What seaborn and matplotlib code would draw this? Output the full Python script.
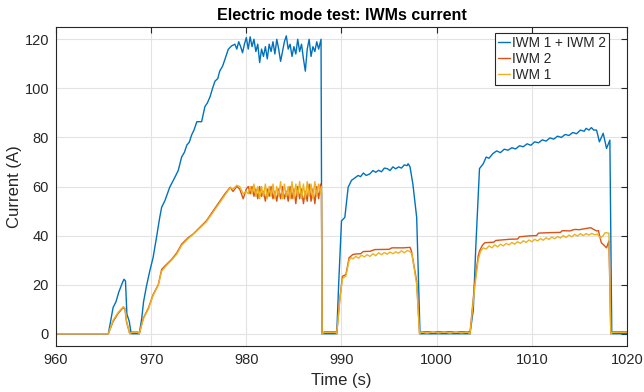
import numpy as np
import pandas as pd
import matplotlib
matplotlib.use("Agg")
import matplotlib.pyplot as plt
import seaborn as sns

# ---------------- data ----------------
t_sum = [960, 965.5, 966.0, 966.3, 966.6, 967.0, 967.15, 967.3, 967.45, 967.7, 967.9, 968.75,
         969.0, 969.2, 969.5, 969.85, 970.2, 970.55, 970.9, 971.1, 971.45, 971.95, 972.5, 972.85,
         973.2, 973.5, 973.75, 974.0, 974.25, 974.5, 974.8, 975.3, 975.65, 975.9, 976.2, 976.45,
         976.7, 977.0, 977.2, 977.5, 977.75, 978.1, 978.45, 978.8, 979.0,
         979.2, 979.4, 979.6, 979.8, 980.0, 980.2, 980.4, 980.6, 980.8, 981.0, 981.2, 981.4,
         981.6, 981.8, 982.0, 982.2, 982.4, 982.6, 982.8, 983.0, 983.2, 983.4, 983.6, 983.8,
         984.0, 984.2, 984.4, 984.6, 984.8, 985.0, 985.2, 985.4, 985.6, 985.8, 986.0, 986.2,
         986.4, 986.6, 986.8, 987.0, 987.2, 987.4, 987.6, 987.85, 987.95,
         989.5, 989.7, 990.0, 990.35, 990.7, 991.05, 991.4, 991.75, 992.0, 992.3, 992.6, 993.0,
         993.3, 993.6, 993.9, 994.2, 994.5, 994.8, 995.1, 995.4, 995.7, 996.0, 996.3, 996.6,
         996.9, 997.0, 997.2, 997.5, 997.9, 998.1, 998.25,
         1003.5, 1003.85, 1004.1, 1004.35, 1004.5, 1004.9, 1005.2, 1005.5, 1005.9, 1006.3, 1006.7,
         1007.1, 1007.5, 1007.9, 1008.3, 1008.7, 1009.1, 1009.5, 1009.9, 1010.3, 1010.7, 1011.1,
         1011.5, 1011.9, 1012.3, 1012.7, 1013.1, 1013.5, 1013.9, 1014.3, 1014.7, 1015.1, 1015.5,
         1015.7, 1016.0, 1016.26, 1016.5, 1016.8, 1017.1, 1017.5, 1017.85, 1018.0, 1018.2, 1018.4,
         1020]
v_sum = [0, 0, 10.7, 13, 17, 21, 22.2, 21.5, 8, 5, 0, 0,
         6, 13, 19.3, 25.5, 31, 39, 47.4, 51.5, 54.3, 59.7, 63.8, 66.6,
         72, 74, 76.9, 78, 81, 83, 86.4, 86.4, 92.6, 94, 96.7, 100,
         102.9, 104, 107, 109, 111.8, 115.9, 117.3, 118, 116,
         119, 117, 114.5, 118, 120.7, 116, 121, 117, 120, 115, 118, 110.5,
         116, 113, 117, 112, 118, 115, 119, 114, 120, 116, 111, 115,
         119, 121.4, 116, 118, 113, 117, 114, 120, 115, 118, 112, 107,
         116, 120, 113, 117, 115, 119, 116, 120, 0,
         0, 20, 46, 47.4, 59.7, 62.5, 63.5, 64.5, 64, 65.5, 64.5, 65.2,
         66.5, 65.8, 66.6, 66, 67.5, 67.3, 66.5, 68, 67.2, 68, 67.5, 68.8,
         68.5, 69.3, 68, 61, 47.4, 20, 0,
         0, 9.7, 34.4, 55, 67.3, 69.3, 72, 71.5, 73.4, 74.5, 73.8,
         75.2, 74.8, 75.8, 75.3, 76.6, 76.2, 77.4, 76.8, 78.2, 77.8, 79,
         78.5, 79.8, 79.3, 80.5, 80.0, 81.2, 80.8, 82, 81.5, 83, 82.5,
         83.7, 83, 84, 83, 83, 78.2, 81.7, 75.5, 77, 78.9, 0,
         0]

t_iwm2 = [960, 965.5, 966.0, 966.55, 967.07, 967.25, 967.4, 967.75, 968.0, 968.6, 968.75,
          969.17, 969.7, 970.2, 970.75, 971.1, 971.6, 972.15, 972.7, 973.2, 973.9, 974.4,
          975.1, 975.8, 976.5, 977.15, 977.75, 978.3, 978.6, 979.0, 979.3, 979.67, 980.0,
          980.2, 980.4, 980.6, 980.8, 981.0, 981.2, 981.4, 981.6, 981.8, 982.0, 982.2, 982.4,
          982.6, 982.8, 983.0, 983.2, 983.4, 983.6, 983.8, 984.0, 984.2, 984.4, 984.6, 984.8,
          985.0, 985.2, 985.4, 985.6, 985.8, 986.0, 986.2, 986.4, 986.6, 986.8, 987.0, 987.2,
          987.4, 987.6, 987.8, 987.9, 987.95,
          988.2, 989.4, 989.5, 989.83, 990.1, 990.46, 990.8, 991.2, 991.5, 992.0, 992.3, 993.0,
          993.5, 995.0, 995.3, 996.5, 997.2, 997.35, 997.9, 998.2,
          998.4, 1003.4, 1003.5, 1004.0, 1004.36, 1004.5, 1004.8, 1005.06, 1006.0, 1006.2, 1007.7,
          1008.5, 1008.7, 1009.8, 1010.5, 1010.7, 1011.9, 1013.0, 1013.2, 1014.0, 1014.5, 1015.0,
          1015.7, 1016.2, 1016.5, 1016.8, 1017.0, 1017.3, 1017.6, 1017.85, 1018.1, 1018.3,
          1018.5, 1020]
v_iwm2 = [0, 0, 5, 8.4, 10.7, 10, 5, 0, 0.7, 0.7, 0,
          6.3, 10.4, 15.9, 20, 26.2, 28.2, 30.3, 33, 36.5, 39.2, 40.6,
          43.3, 46, 50, 53.6, 57, 59.7, 58, 60, 59, 55, 59,
          60, 57, 60, 56, 59, 55, 60, 56, 58, 54, 59, 56,
          60, 55, 58, 54, 59, 55, 60, 55, 58, 54, 60, 55,
          59, 53, 60, 55, 59, 53, 58, 54, 61, 54, 59, 53,
          60, 55, 61, 57, 0,
          0.8, 0.8, 0, 14.5, 23.4, 24.1, 31, 32.3, 32.5, 32.6, 33.5, 33.6,
          34.3, 34.4, 35, 35, 35.2, 33.7, 21.4, 0,
          0.8, 0.8, 0, 20.7, 31.6, 33.7, 36, 37.1, 37.3, 38, 38.5,
          38.6, 39.5, 39.9, 40, 41, 41.2, 41.3, 42, 41.9, 42.5, 42.4,
          42.9, 43.2, 42.5, 41.9, 42, 37.1, 36, 35, 37.8, 0,
          0.8, 0.8]

t_iwm1 = [960, 965.5, 966.0, 966.55, 967.07, 967.25, 967.4, 967.75, 968.0, 968.6, 968.75,
          969.17, 969.7, 970.2, 970.75, 971.1, 971.6, 972.15, 972.7, 973.2, 973.9, 974.4,
          975.1, 975.8, 976.5, 977.15, 977.75, 978.3, 978.6, 979.0, 979.3, 979.67, 980.0,
          980.2, 980.4, 980.6, 980.8, 981.0, 981.2, 981.4, 981.6, 981.8, 982.0, 982.2, 982.4,
          982.6, 982.8, 983.0, 983.2, 983.4, 983.6, 983.8, 984.0, 984.2, 984.4, 984.6, 984.8,
          985.0, 985.2, 985.4, 985.6, 985.8, 986.0, 986.2, 986.4, 986.6, 986.8, 987.0, 987.2,
          987.4, 987.6, 987.8, 987.9, 987.95,
          988.2, 989.4, 989.5, 989.83, 990.1, 990.46, 990.8, 991.0, 991.2, 991.5, 991.8, 992.1,
          992.4, 992.7, 993.0, 993.3, 993.6, 993.9, 994.2, 994.5, 994.8, 995.1, 995.4, 995.7,
          996.0, 996.3, 996.6, 996.9, 997.2, 997.4, 997.9, 998.2,
          998.4, 999.0, 999.6, 1000.2, 1000.8, 1001.4, 1002.0, 1002.6, 1003.2, 1003.5,
          1004.0, 1004.36, 1004.6, 1004.9, 1005.2, 1005.5, 1005.8, 1006.1, 1006.4, 1006.7, 1007.0,
          1007.3, 1007.6, 1007.9, 1008.2, 1008.5, 1008.8, 1009.1, 1009.4, 1009.7, 1010.0, 1010.3,
          1010.6, 1010.9, 1011.2, 1011.5, 1011.8, 1012.1, 1012.4, 1012.7, 1013.0, 1013.3, 1013.6,
          1013.9, 1014.2, 1014.5, 1014.8, 1015.1, 1015.4, 1015.7, 1016.0, 1016.3, 1016.6, 1016.9,
          1017.2, 1017.5, 1017.7, 1018.1, 1018.3, 1018.5, 1020]
v_iwm1 = [0, 0, 5.5, 8.8, 11, 10.5, 5.5, 0, 0.6, 0.6, 0,
          6, 10, 15.5, 19.8, 25.5, 27.8, 30, 32.5, 36, 38.8, 40.4,
          43, 45.6, 49.5, 53.2, 56.5, 59.5, 59, 60.5, 60, 57, 58,
          57, 60, 57, 61, 56, 60, 55, 60, 56, 61, 55, 60,
          56, 61, 55, 60, 56, 62, 55, 61, 56, 60, 55, 62,
          55, 61, 56, 62, 55, 61, 55, 62, 56, 61, 55, 62,
          56, 61, 57, 60, 0,
          0.6, 0.6, 0, 14, 22.5, 23.5, 30, 31, 30.5, 31.5, 30.8, 32,
          31.3, 32.2, 31.5, 32.6, 31.8, 33, 32.2, 33.1, 32.4, 33.3, 32.6, 33.4,
          32.8, 33.8, 33, 33.9, 33.5, 32.5, 20, 0,
          0.8, 0.2, 0.9, 0.3, 0.8, 0.2, 0.9, 0.3, 0.7, 0,
          19, 30, 33.5, 35, 34.5, 35.8, 35, 36.2, 35.4, 36.5, 35.8,
          36.8, 36.2, 37.2, 36.5, 37.5, 36.8, 37.9, 37.2, 38.2, 37.5, 38.5,
          37.8, 38.8, 38.1, 39.1, 38.4, 39.4, 38.7, 39.6, 39, 40, 39.2,
          40.2, 39.5, 40.5, 39.8, 40.8, 40, 40.8, 40.2, 40.9, 40.3, 40.6,
          39, 40, 41.2, 41, 0, 0.6, 0.6]

series_labels = ["IWM 1 + IWM 2", "IWM 2", "IWM 1"]
x_ticks = [960, 970, 980, 990, 1000, 1010, 1020]
y_ticks = [0, 20, 40, 60, 80, 100, 120]

df = pd.concat([
    pd.DataFrame({"t": t_sum, "v": v_sum, "s": series_labels[0]}),
    pd.DataFrame({"t": t_iwm2, "v": v_iwm2, "s": series_labels[1]}),
    pd.DataFrame({"t": t_iwm1, "v": v_iwm1, "s": series_labels[2]}),
], ignore_index=True)

# ---------------- style ----------------
sns.set_theme(style="whitegrid")
plt.rcParams["font.family"] = ["Liberation Sans", "DejaVu Sans"]

palette = {"IWM 1 + IWM 2": "#0072BD", "IWM 2": "#D95319", "IWM 1": "#EDB120"}

fig = plt.figure(figsize=(6.44, 3.92), dpi=100)
ax = fig.add_axes([56 / 644, 1 - 346 / 392, (627 - 56) / 644, (346 - 27) / 392])

sns.lineplot(data=df, x="t", y="v", hue="s", hue_order=series_labels, palette=palette,
             linewidth=1.0, estimator=None, sort=False, ax=ax)

ax.set_xlim(960, 1020)
ax.set_ylim(-5, 125)
ax.set_xticks(x_ticks)
ax.set_yticks(y_ticks)
ax.tick_params(axis="both", which="both", direction="in", length=4, width=0.8,
               colors="#262626", labelsize=10.5, top=True, right=True,
               labeltop=False, labelright=False, pad=5)
for sp in ax.spines.values():
    sp.set_visible(True)
    sp.set_color("#262626")
    sp.set_linewidth(0.8)
ax.grid(True, color="#e3e3e3", linewidth=0.8)
ax.set_facecolor("white")

ax.set_xlabel("Time (s)", fontsize=12, color="#262626", labelpad=4)
ax.set_ylabel("Current (A)", fontsize=12, color="#262626", labelpad=2)
ax.set_title("Electric mode test: IWMs current", fontsize=11.5, fontweight="bold",
             color="black", pad=5)

leg = ax.legend(loc="upper right", bbox_to_anchor=(0.968, 0.98), fontsize=9.8,
                frameon=True, fancybox=False, framealpha=1, edgecolor="#262626",
                handlelength=0.9, handletextpad=0.15, borderpad=0.2, labelspacing=0.15,
                borderaxespad=0.0)
leg.get_frame().set_linewidth(0.8)

fig.savefig("out.png", dpi=100)
